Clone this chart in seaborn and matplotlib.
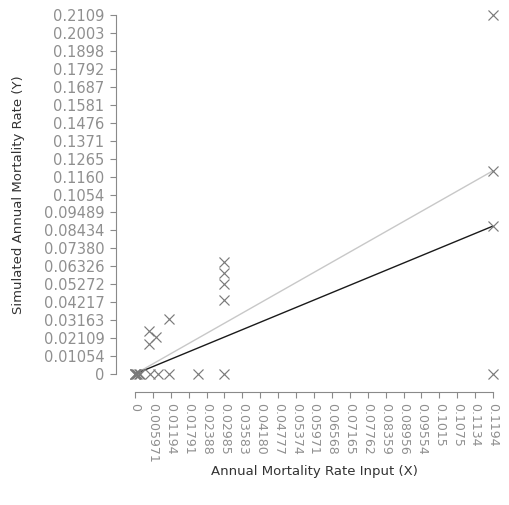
import matplotlib
matplotlib.use("Agg")
import matplotlib.pyplot as plt
import seaborn as sns
import pandas as pd

# Observed points: annual mortality rate input vs. simulated annual rate
rate_input = [0.0, 0.0, 0.0, 0.0004, 0.0008, 0.0012, 0.0016,
              0.0050, 0.0078, 0.0114, 0.0211, 0.02985,
              0.00477, 0.0070, 0.00477, 0.01134,
              0.02985, 0.02985, 0.02985, 0.02985,
              0.1194, 0.1194, 0.1194, 0.1194]
rate_simulated = [0.0, 0.0, 0.0, 0.0, 0.0, 0.0, 0.0,
                  0.0, 0.0, 0.0, 0.0, 0.0,
                  0.0254, 0.0215, 0.0176, 0.0323,
                  0.0659, 0.0591, 0.0527, 0.0435,
                  0.2109, 0.1194, 0.0869, 0.0]

# Reference line (simulated equals input) and fitted line
identity_x = [0.0, 0.1194]
identity_y = [0.0, 0.1194]
fit_x = [0.0, 0.1194]
fit_y = [0.0, 0.0869]

x_ticks = [0, 0.005971, 0.01194, 0.01791, 0.02388, 0.02985, 0.03583, 0.04180,
           0.04777, 0.05374, 0.05971, 0.06568, 0.07165, 0.07762, 0.08359,
           0.08956, 0.09554, 0.1015, 0.1075, 0.1134, 0.1194]
x_tick_labels = ["0", "0.005971", "0.01194", "0.01791", "0.02388", "0.02985",
                 "0.03583", "0.04180", "0.04777", "0.05374", "0.05971",
                 "0.06568", "0.07165", "0.07762", "0.08359", "0.08956",
                 "0.09554", "0.1015", "0.1075", "0.1134", "0.1194"]
y_ticks = [0, 0.01054, 0.02109, 0.03163, 0.04217, 0.05272, 0.06326, 0.07380,
           0.08434, 0.09489, 0.1054, 0.1160, 0.1265, 0.1371, 0.1476, 0.1581,
           0.1687, 0.1792, 0.1898, 0.2003, 0.2109]
y_tick_labels = ["0", "0.01054", "0.02109", "0.03163", "0.04217", "0.05272",
                 "0.06326", "0.07380", "0.08434", "0.09489", "0.1054", "0.1160",
                 "0.1265", "0.1371", "0.1476", "0.1581", "0.1687", "0.1792",
                 "0.1898", "0.2003", "0.2109"]

sns.set_theme(style="white")
plt.rcParams["font.family"] = ["DejaVu Sans"]

fig = plt.figure(figsize=(5.1, 5.05), dpi=100)
ax = fig.add_axes([135 / 510, 1 - 374 / 505, 358 / 510, 359 / 505])

points = pd.DataFrame({"x": rate_input, "y": rate_simulated})

sns.lineplot(x=identity_x, y=identity_y, ax=ax, color="#c8c8c8", linewidth=1.0,
             estimator=None, sort=False)
sns.lineplot(x=fit_x, y=fit_y, ax=ax, color="#1a1a1a", linewidth=1.0,
             estimator=None, sort=False)
sns.scatterplot(data=points, x="x", y="y", ax=ax, marker="x", color="#7a7a7a",
                s=52, linewidth=0.85, clip_on=False, zorder=3)

ax.set_xlim(0, 0.1194)
ax.set_ylim(0, 0.2109)

tick_color = "#8a8a8a"
ax.set_xticks(x_ticks)
ax.set_xticklabels(x_tick_labels)
ax.set_yticks(y_ticks)
ax.set_yticklabels(y_tick_labels)

ax.tick_params(axis="both", which="major", direction="out", length=4,
               width=0.8, color=tick_color, labelcolor="#8f8f8f")
ax.tick_params(axis="x", bottom=True, labelsize=9, pad=4, labelrotation=270)
ax.tick_params(axis="y", left=True, labelsize=10.5, pad=4.5)
for lbl in ax.get_xticklabels():
    lbl.set_verticalalignment("top")
    lbl.set_horizontalalignment("center")

for side in ("top", "right"):
    ax.spines[side].set_visible(False)
for side in ("left", "bottom"):
    ax.spines[side].set_color(tick_color)
    ax.spines[side].set_linewidth(0.8)
ax.spines["left"].set_position(("outward", 13.5))
ax.spines["bottom"].set_position(("outward", 13))

ax.set_xlabel("Annual Mortality Rate Input (X)", color="#333333", fontsize=9.5,
              va="center")
ax.set_ylabel("Simulated Annual Mortality Rate (Y)", color="#333333",
              fontsize=9.5, va="center")
ax.xaxis.set_label_coords(0.5, (374 - 471) / 359)
ax.yaxis.set_label_coords((18 - 135) / 358, 0.5)
ax.grid(False)

fig.savefig("out.png", dpi=100)
